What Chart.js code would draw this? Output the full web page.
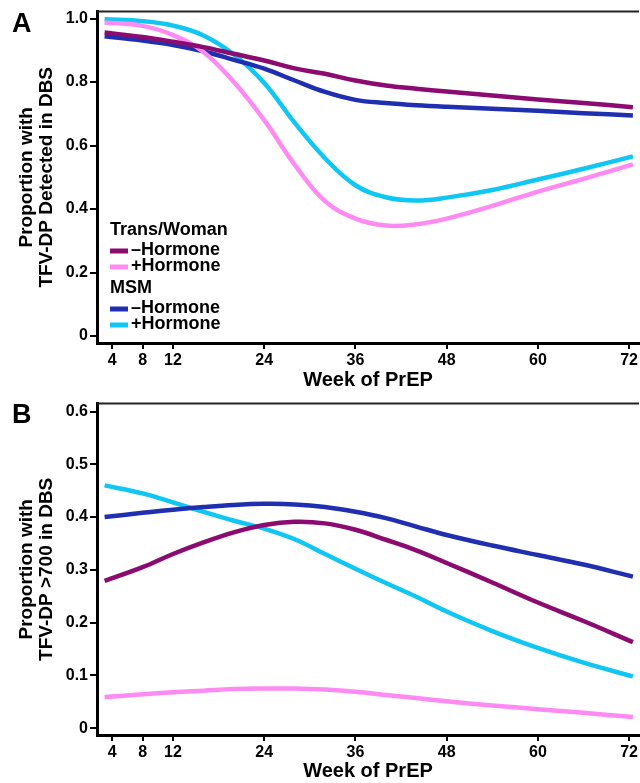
<!DOCTYPE html>
<html>
<head>
<meta charset="utf-8">
<script src="https://cdn.jsdelivr.net/npm/chart.js@4.4.1/dist/chart.umd.min.js"></script>
<style>
  body { margin: 0; background: #fff; }
  .panel { position: absolute; left: 0; }
  #wrapA { top: 0; }
  #wrapB { top: 392px; }
</style>
</head>
<body>
<div class="panel" id="wrapA"><canvas id="chartA" width="640" height="392"></canvas></div>
<div class="panel" id="wrapB"><canvas id="chartB" width="640" height="391"></canvas></div>
<script>
const weeks = [3, 8, 12, 16, 20, 24, 28, 32, 36, 40, 44, 48, 54, 60, 66, 72.5];
const xTicks = [4, 8, 12, 24, 36, 48, 60, 72];
const yTicksA = [0, 0.2, 0.4, 0.6, 0.8, 1.0];
const yTicksB = [0, 0.1, 0.2, 0.3, 0.4, 0.5, 0.6];
const groups = ['Trans/Woman', 'MSM'];

// Panel A: proportion with TFV-DP detected in DBS
const transNoHormA = [0.956, 0.942, 0.927, 0.910, 0.889, 0.868, 0.843, 0.826, 0.805, 0.789, 0.779, 0.770, 0.758, 0.745, 0.734, 0.721];
const transHormA   = [0.988, 0.977, 0.948, 0.895, 0.800, 0.680, 0.540, 0.425, 0.370, 0.348, 0.352, 0.370, 0.410, 0.455, 0.495, 0.541];
const msmNoHormA   = [0.944, 0.931, 0.917, 0.897, 0.870, 0.842, 0.805, 0.769, 0.744, 0.734, 0.727, 0.722, 0.716, 0.710, 0.702, 0.695];
const msmHormA     = [0.998, 0.992, 0.978, 0.947, 0.887, 0.797, 0.672, 0.560, 0.475, 0.437, 0.427, 0.436, 0.460, 0.493, 0.527, 0.566];

// Panel B: proportion with TFV-DP >700 in DBS
const transNoHormB = [0.279, 0.305, 0.330, 0.352, 0.371, 0.385, 0.391, 0.388, 0.376, 0.357, 0.337, 0.313, 0.276, 0.238, 0.203, 0.163];
const transHormB   = [0.059, 0.064, 0.068, 0.071, 0.074, 0.075, 0.075, 0.073, 0.069, 0.063, 0.057, 0.051, 0.043, 0.036, 0.029, 0.021];
const msmNoHormB   = [0.400, 0.408, 0.414, 0.419, 0.423, 0.425, 0.424, 0.419, 0.410, 0.398, 0.382, 0.366, 0.346, 0.328, 0.310, 0.287];
const msmHormB     = [0.460, 0.445, 0.428, 0.410, 0.393, 0.378, 0.358, 0.330, 0.302, 0.275, 0.249, 0.221, 0.184, 0.152, 0.124, 0.098];

const FONT = '"Liberation Sans", Arial, Helvetica, sans-serif';
const colors = { transNo: '#8B0B70', transYes: '#FF8AF2', msmNo: '#1F2FB0', msmYes: '#10C6F3' };

const pts = arr => arr.map((v, i) => ({ x: weeks[i], y: v }));

function makeDatasets(tNo, tYes, mNo, mYes) {
  const base = { borderWidth: 4.5, pointRadius: 0, fill: false, tension: 0.4 };
  return [
    { ...base, label: '\u2013Hormone', group: 0, data: pts(tNo), borderColor: colors.transNo },
    { ...base, label: '+Hormone', group: 0, data: pts(tYes), borderColor: colors.transYes },
    { ...base, label: '\u2013Hormone', group: 1, data: pts(mNo), borderColor: colors.msmNo },
    { ...base, label: '+Hormone', group: 1, data: pts(mYes), borderColor: colors.msmYes }
  ];
}

const panelDecor = {
  id: 'panelDecor',
  afterDraw(chart, args, opts) {
    const { ctx, chartArea: a } = chart;
    ctx.save();
    ctx.strokeStyle = '#222';
    ctx.lineWidth = 2;
    ctx.beginPath();
    ctx.moveTo(a.left, a.top);
    ctx.lineTo(a.right, a.top);
    ctx.stroke();

    ctx.fillStyle = '#000';
    ctx.font = 'bold 27px ' + FONT;
    ctx.textAlign = 'left';
    ctx.textBaseline = 'alphabetic';
    ctx.fillText(opts.letter, 12, opts.letterY);

    if (opts.legend) {
      ctx.font = 'bold 18px ' + FONT;
      ctx.textBaseline = 'middle';
      groups.forEach((g, gi) => {
        const hy = 230 + gi * 58;
        ctx.fillStyle = '#000';
        ctx.fillText(g, 110, hy);
        chart.data.datasets.filter(d => d.group === gi).forEach((d, k) => {
          const y = hy + 20 + k * 16;
          ctx.strokeStyle = d.borderColor;
          ctx.lineWidth = 5;
          ctx.beginPath();
          ctx.moveTo(110, y + 1);
          ctx.lineTo(128, y + 1);
          ctx.stroke();
          ctx.fillStyle = '#000';
          ctx.fillText(d.label, 131, y);
        });
      });
    }
    ctx.restore();
  }
};

function makeChart(id, datasets, yMin, yMax, yTicks, yTitle, padTop, xHeight, letter, letterY, legend) {
  return new Chart(document.getElementById(id), {
    type: 'line',
    data: { datasets },
    plugins: [panelDecor],
    options: {
      responsive: false,
      animation: false,
      devicePixelRatio: 1,
      layout: { padding: { top: padTop, left: 0, right: 0, bottom: 0 } },
      plugins: {
        legend: { display: false },
        tooltip: { enabled: false },
        panelDecor: { letter, letterY, legend }
      },
      scales: {
        x: {
          type: 'linear',
          min: 2,
          max: 73.3,
          afterBuildTicks: s => { s.ticks = xTicks.map(v => ({ value: v })); },
          afterFit: s => { s.height = xHeight; },
          ticks: {
            color: '#000',
            padding: 2,
            maxRotation: 0,
            font: { family: FONT, size: 16, weight: 'bold' },
            callback: v => String(v)
          },
          grid: { drawOnChartArea: false, drawTicks: true, tickLength: 6, color: '#000', lineWidth: 2 },
          border: { display: true, color: '#000', width: 3 },
          title: {
            display: true,
            text: 'Week of PrEP',
            color: '#000',
            padding: { top: 0, bottom: 0 },
            font: { family: FONT, size: 20, weight: 'bold', lineHeight: 1.2 }
          }
        },
        y: {
          min: yMin,
          max: yMax,
          afterBuildTicks: s => { s.ticks = yTicks.map(v => ({ value: v })); },
          afterFit: s => { s.width = 97; },
          ticks: {
            color: '#000',
            padding: 2,
            font: { family: FONT, size: 16, weight: 'bold' },
            callback: v => (v === 0 ? '0' : Number(v).toFixed(1))
          },
          grid: { drawOnChartArea: false, drawTicks: true, tickLength: 7, color: '#000', lineWidth: 2 },
          border: { display: true, color: '#000', width: 3 },
          title: {
            display: true,
            text: yTitle,
            color: '#000',
            padding: { top: 17, bottom: 0 },
            font: { family: FONT, size: 19, weight: 'bold', lineHeight: 1.05 }
          }
        }
      }
    }
  });
}

makeChart('chartA', makeDatasets(transNoHormA, transHormA, msmNoHormA, msmHormA),
  -0.022, 1.022, yTicksA, ['Proportion with', 'TFV-DP Detected in DBS'], 11, 49, 'A', 32, true);

makeChart('chartB', makeDatasets(transNoHormB, transHormB, msmNoHormB, msmHormB),
  -0.013, 0.615, yTicksB, ['Proportion with', 'TFV-DP >700 in DBS'], 10, 48, 'B', 31, false);
</script>
</body>
</html>
